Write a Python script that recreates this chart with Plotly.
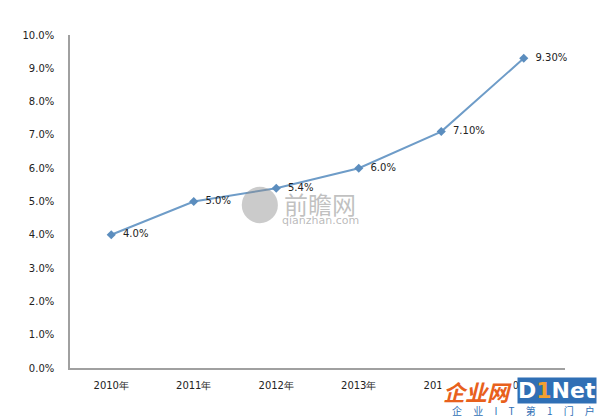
import plotly.graph_objects as go

years = ["2010年", "2011年", "2012年", "2013年", "2014年", "2015年"]
values = [4.0, 5.0, 5.4, 6.0, 7.1, 9.3]
labels = ["4.0%", "5.0%", "5.4%", "6.0%", "7.10%", "9.30%"]
y_ticks = [0, 1, 2, 3, 4, 5, 6, 7, 8, 9, 10]
y_tick_text = [f"{v:.1f}%" for v in y_ticks]

fig = go.Figure()
fig.add_trace(go.Scatter(
    x=years, y=values, mode="lines+markers+text",
    text=labels, texttemplate="  %{text}", textposition="middle right",
    textfont=dict(family="DejaVu Sans", size=10, color="#222222"),
    line=dict(color="#6E9CC8", width=2),
    marker=dict(symbol="diamond", size=7, color="#5B8DBE"),
    cliponaxis=False, showlegend=False, hoverinfo="skip",
))

fig.update_layout(
    width=600, height=417,
    margin=dict(l=70, r=35, t=35, b=49),
    paper_bgcolor="white", plot_bgcolor="white",
    font=dict(family="DejaVu Sans", size=10, color="#222222"),
    xaxis=dict(type="category", range=[-0.5, 5.5], showgrid=False,
               showline=True, linecolor="#A0A0A0", linewidth=1.5,
               ticks="", ticklabelstandoff=7, tickfont=dict(size=10)),
    yaxis=dict(range=[0, 10], tickvals=y_ticks, ticktext=y_tick_text,
               showgrid=False, zeroline=False, showline=True,
               linecolor="#A0A0A0", linewidth=1.5, ticks="",
               ticklabelstandoff=12, tickfont=dict(size=10)),
)

# centre watermark
fig.add_shape(type="circle", xref="paper", yref="paper",
              x0=0.347, x1=0.420, y0=0.435, y1=0.544,
              fillcolor="rgba(140,140,140,0.45)", line=dict(width=0), layer="above")
fig.add_annotation(xref="paper", yref="paper", x=0.428, y=0.495, xanchor="left", yanchor="middle",
                   text="前瞻网", showarrow=False,
                   font=dict(family="Noto Sans CJK SC", size=24, color="rgba(140,140,140,0.55)"))
fig.add_annotation(xref="paper", yref="paper", x=0.424, y=0.444, xanchor="left", yanchor="middle",
                   text="qianzhan.com", showarrow=False,
                   font=dict(family="DejaVu Sans", size=11, color="rgba(140,140,140,0.6)"))

# bottom-right watermark
fig.add_annotation(xref="paper", yref="paper", x=0.749, y=-0.069, xanchor="left", yanchor="middle",
                   text="<b><i>企业网</i></b>", showarrow=False, bgcolor="white",
                   font=dict(family="Noto Sans CJK SC", size=22, color="#E8601C"))
fig.add_annotation(xref="paper", yref="paper", x=1.064, y=-0.069, xanchor="right", yanchor="middle",
                   text="<b>D<span style='color:#F4A030'>1</span>Net</b>", showarrow=False,
                   bgcolor="#2F6FB5", borderpad=0,
                   font=dict(family="DejaVu Sans", size=22, color="white"))
fig.add_annotation(xref="paper", yref="paper", x=1.064, y=-0.129, xanchor="right", yanchor="middle",
                   text="企     业     I     T     第     1     门     户", showarrow=False,
                   font=dict(family="Noto Sans CJK SC", size=10, color="#2F6FB5"))

fig.write_html("out.html", config={"displayModeBar": False},
               post_script="document.body.style.margin='0px';")
